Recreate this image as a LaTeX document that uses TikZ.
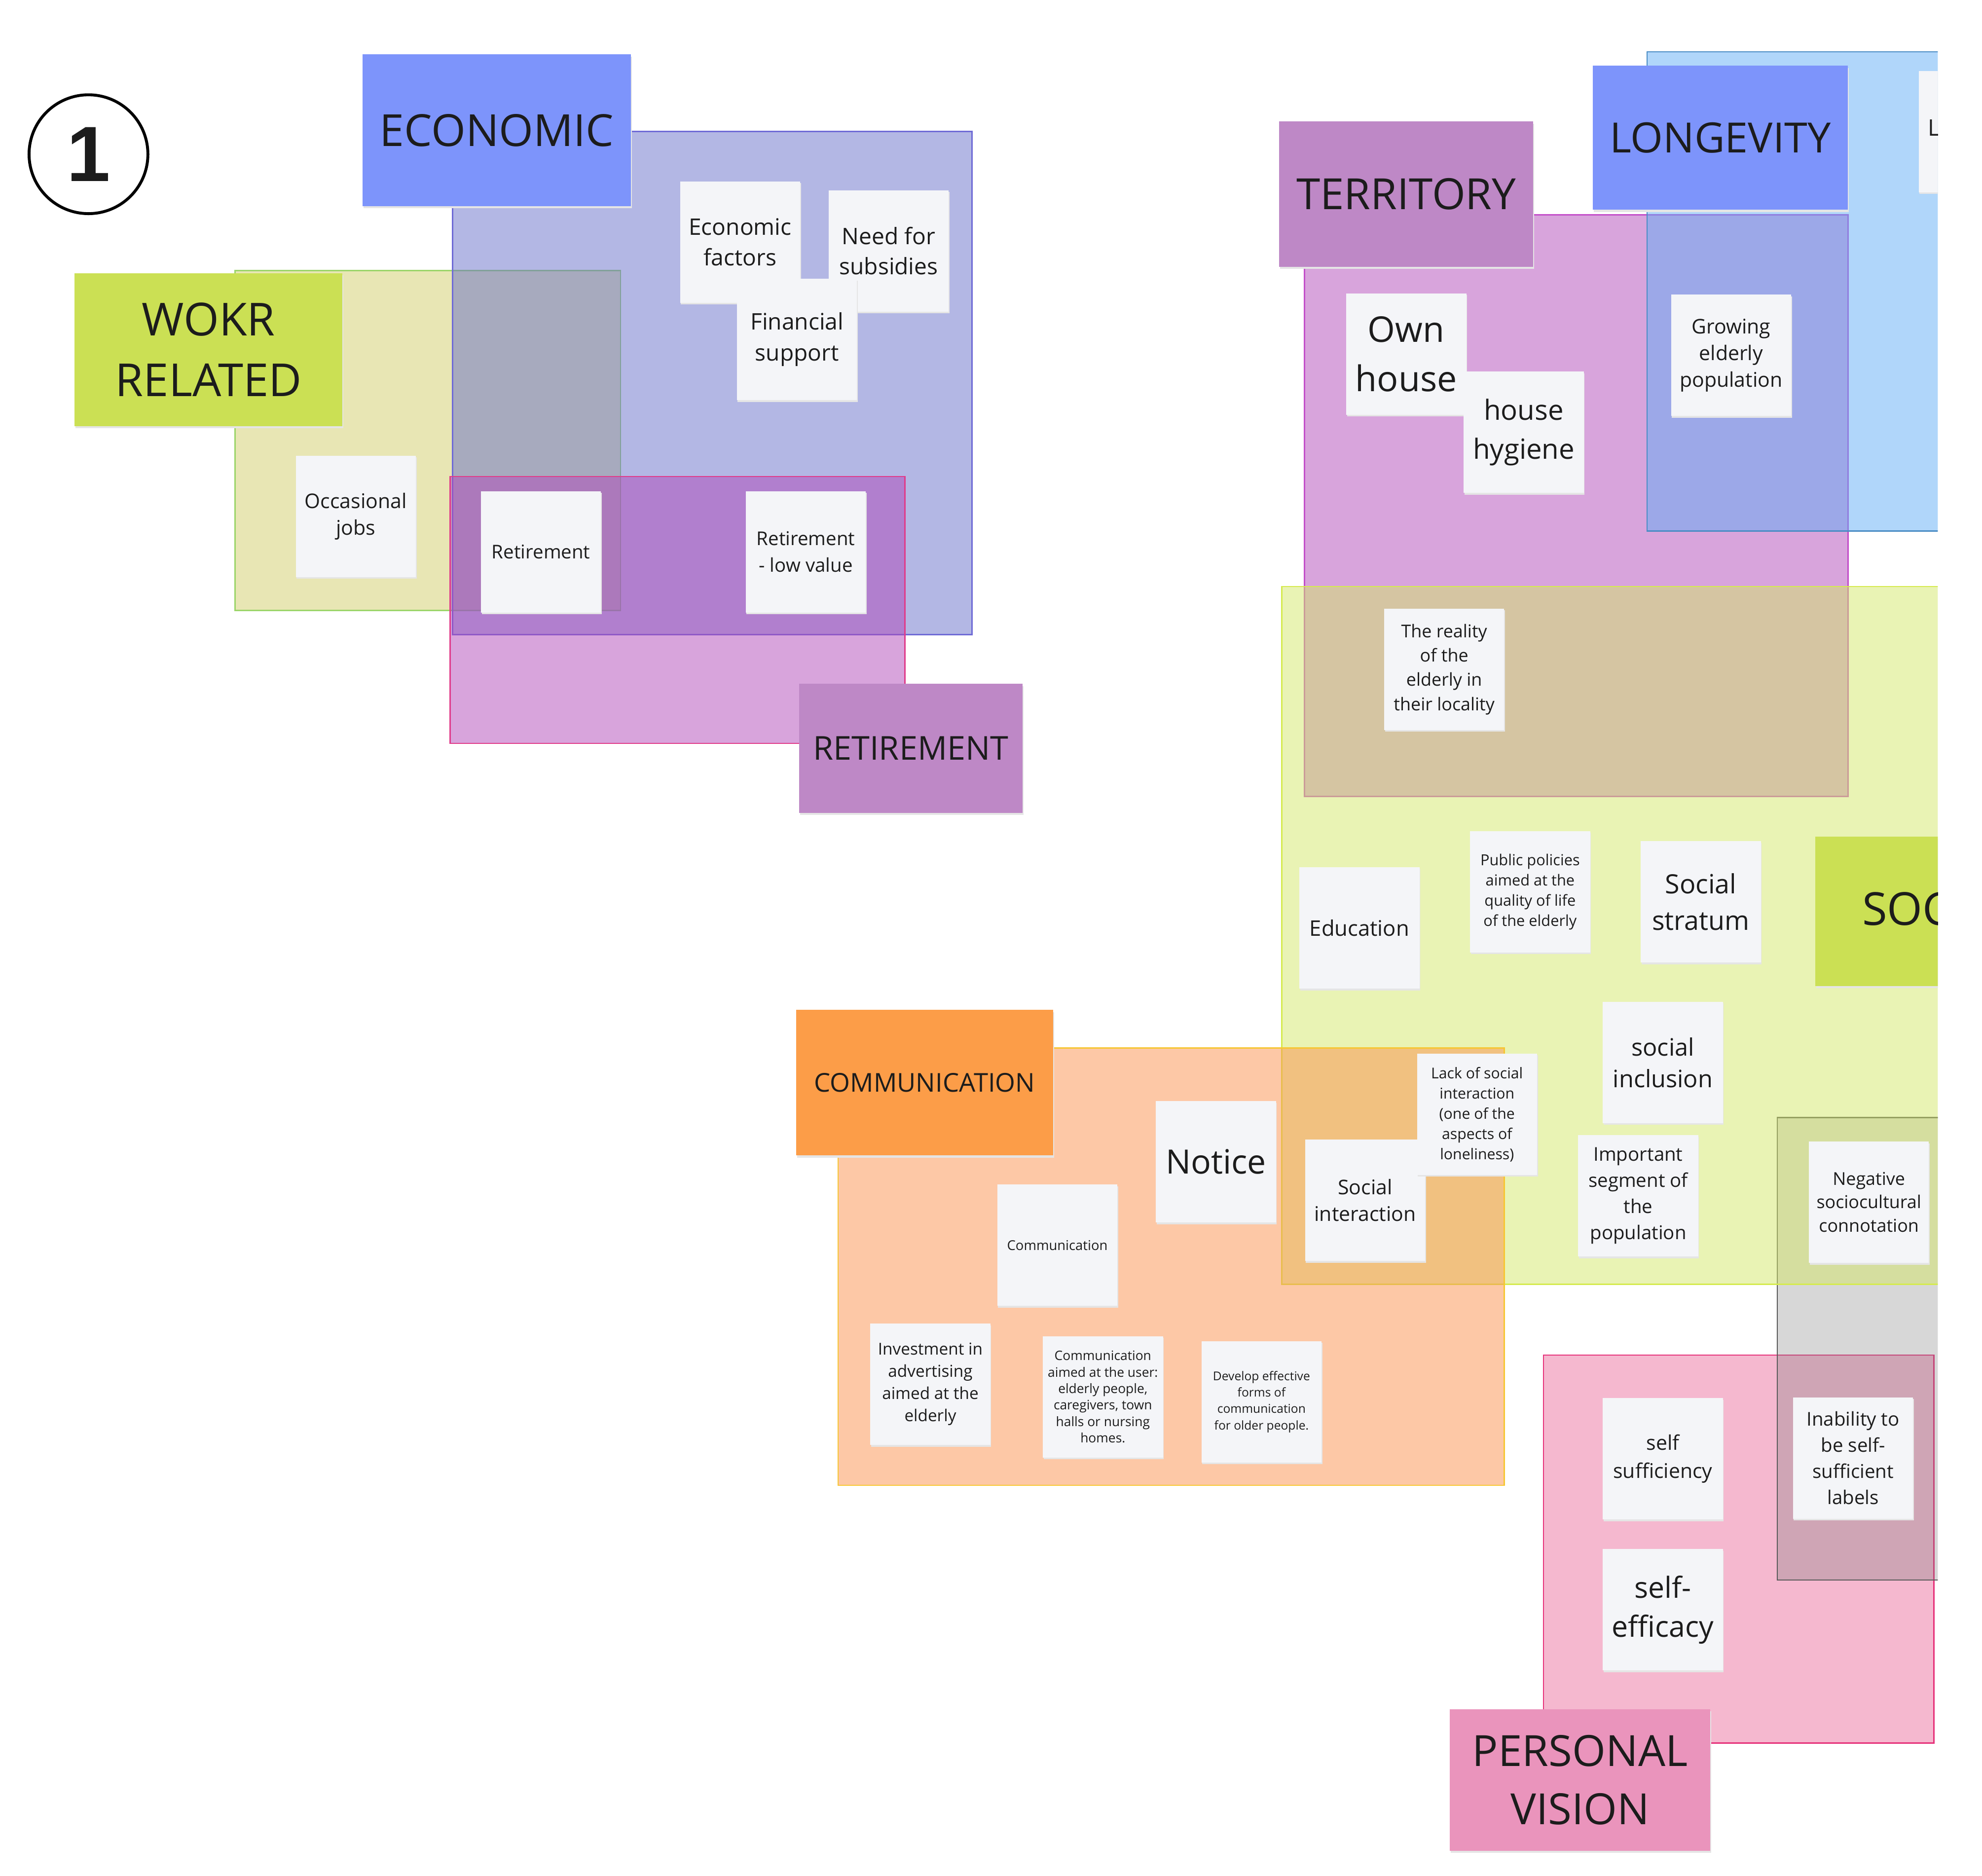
\documentclass[tikz,border=0pt]{standalone}
\usepackage{fontspec}
\setmainfont{Open Sans}
\newfontfamily\numfont{Liberation Sans}
\usepackage{tikz}
\usetikzlibrary{shadows}
\usepackage{xcolor}
\definecolor{ink}{HTML}{1C1C1C}
\definecolor{notebg}{HTML}{F4F5F8}
% header colours
\definecolor{hdblue}{HTML}{7D94FB}
\definecolor{hdlime}{HTML}{CBE054}
\definecolor{hdplum}{HTML}{BE88C6}
\definecolor{hdorange}{HTML}{FC9D48}
\definecolor{hdpink}{HTML}{EA94BC}
% area colours (laid down at half opacity) and their edges
\definecolor{arEcon}{HTML}{676FC9}
\definecolor{arWork}{HTML}{D1CD69}
\definecolor{arPlum}{HTML}{B149B9}
\definecolor{arLong}{HTML}{61ADF5}
\definecolor{arSoc}{HTML}{D3E769}
\definecolor{arComm}{HTML}{FB914D}
\definecolor{arGrey}{HTML}{797979}
\definecolor{arPers}{HTML}{EB719F}
\definecolor{edEcon}{HTML}{6F6BD6}
\definecolor{edWork}{HTML}{9CD56A}
\definecolor{edRet}{HTML}{E03C8A}
\definecolor{edTerr}{HTML}{C34FC9}
\definecolor{edLong}{HTML}{4A8CC4}
\definecolor{edSoc}{HTML}{D5EA4E}
\definecolor{edComm}{HTML}{F7C634}
\definecolor{edGrey}{HTML}{5A5A5A}
\definecolor{edPers}{HTML}{E6327A}
\newcommand{\fsz}[2]{\fontsize{#1}{#2}\selectfont}

\begin{document}
\begin{tikzpicture}[x=1pt, y=-1pt, text=ink,
    area/.style 2 args={fill=#1, draw=#2, fill opacity=0.5, line width=1pt},
    sticky/.style={fill=notebg, minimum width=95pt, minimum height=96pt, inner sep=2pt, align=center,
        general shadow={fill=black!10, shadow xshift=0.6pt, shadow yshift=-1.4pt}},
    header/.style={fill=#1, align=center, inner sep=0pt,
        general shadow={fill=black!10, shadow xshift=0.8pt, shadow yshift=-1.8pt}}]
    \useasboundingbox (0,0) rectangle (1568,1484);
    \node[draw, circle, line width=2.3pt, minimum size=94pt, font=\numfont\bfseries\fsz{62}{62}] (badge) at (70,122) {1};
    \begin{scope}
        \clip (0,0) rectangle (1533,1484);
        % areas
        \filldraw[area={arWork}{edWork}] (186,214) rectangle (491,483);
        \filldraw[area={arEcon}{edEcon}] (358,104) rectangle (769,502);
        \filldraw[area={arPlum}{edRet}] (356,377) rectangle (716,588);
        \filldraw[area={arPlum}{edTerr}] (1032,170) rectangle (1462,630);
        \filldraw[area={arPers}{edPers}] (1221,1072) rectangle (1530,1379);
        \filldraw[area={arGrey}{edGrey}, fill opacity=0.3] (1406,884) rectangle (1545,1250);
        \filldraw[area={arSoc}{edSoc}] (1014,464) rectangle (1545,1016);
        \filldraw[area={arLong}{edLong}] (1303,41) rectangle (1545,420);
        \filldraw[area={arComm}{edComm}] (663,829) rectangle (1190,1175);
        % ECONOMIC / WORK / RETIREMENT
        \node[header=hdblue, minimum width=212pt, minimum height=120pt, font=\fsz{35}{46}] (economic) at (393,103) {ECONOMIC};
        \node[header=hdlime, minimum width=212pt, minimum height=121pt, font=\fsz{36}{48}] (work) at (165,276.5) {WOKR\\RELATED};
        \node[header=hdplum, minimum width=177pt, minimum height=102pt, font=\fsz{26}{34}] (retirement) at (720.5,592) {RETIREMENT};
        \node[sticky, font=\fsz{18}{24}] (ecoFactors) at (585.5,191.5) {Economic\\factors};
        \node[sticky, font=\fsz{18}{24}] (subsidies) at (703,198.5) {Need for\\subsidies};
        \node[sticky, font=\fsz{18}{24.5}] (finSupport) at (630.5,268.5) {Financial\\support};
        \node[sticky, font=\fsz{16}{21}] (occJobs) at (281.5,408.5) {Occasional\\jobs};
        \node[sticky, font=\fsz{15}{21}] (retire) at (428,436.5) {Retirement};
        \node[sticky, font=\fsz{15}{21}] (retLow) at (637.5,436.5) {Retirement\\- low value};
        % TERRITORY / LONGEVITY
        \node[header=hdplum, minimum width=201pt, minimum height=115pt, font=\fsz{34}{44}] (territory) at (1112.5,153.5) {TERRITORY};
        \node[header=hdblue, minimum width=202pt, minimum height=114pt, font=\fsz{33}{44}] (longevity) at (1361,109) {LONGEVITY};
        \node[sticky, font=\fsz{28}{39}] (ownHouse) at (1112.5,280) {Own\\house};
        \node[sticky, font=\fsz{22}{31}] (hygiene) at (1205.5,342) {house\\hygiene};
        \node[sticky, font=\fsz{16}{21}] (growing) at (1369.5,281) {Growing\\elderly\\population};
        \node[sticky] (lNote) at (1565.5,104) {};
        \node[font=\fsz{18}{24}, anchor=west, inner sep=0pt] (lNoteText) at (1525,101) {L};
        % SOCIAL
        \node[header=hdlime, minimum width=210pt, minimum height=118pt] (soc) at (1541,721) {};
        \node[font=\fsz{36}{46}, anchor=west, inner sep=0pt] (socText) at (1473,719) {SOC};
        \node[sticky, font=\fsz{14}{19.3}] (reality) at (1142.5,529.5) {The reality\\of the\\elderly in\\their locality};
        \node[sticky, font=\fsz{17}{22}] (education) at (1075.5,734) {Education};
        \node[sticky, font=\fsz{12}{16}] (policies) at (1210.5,705.5) {Public policies\\aimed at the\\quality of life\\of the elderly};
        \node[sticky, font=\fsz{21}{29}] (stratum) at (1345.5,713.5) {Social\\stratum};
        \node[sticky, font=\fsz{19}{25}] (inclusion) at (1315.5,840.5) {social\\inclusion};
        \node[sticky, font=\fsz{15}{20.7}] (segment) at (1296,946) {Important\\segment of\\the\\population};
        \node[sticky, font=\fsz{16}{21}] (socInter) at (1080,949.5) {Social\\interaction};
        \node[sticky, font=\fsz{11.8}{16}] (lackInter) at (1168.5,881.5) {Lack of social\\interaction\\(one of the\\aspects of\\loneliness)};
        \node[sticky, font=\fsz{14}{18.5}] (negative) at (1478.5,951) {Negative\\sociocultural\\connotation};
        % COMMUNICATION
        \node[header=hdorange, minimum width=203pt, minimum height=115pt, font=\fsz{20.5}{28}] (communication) at (731.5,856.5) {COMMUNICATION};
        \node[sticky, font=\fsz{26.5}{34}] (notice) at (962,919) {Notice};
        \node[sticky, font=\fsz{10.7}{14}] (commNote) at (836.5,985) {Communication};
        \node[sticky, font=\fsz{13}{17.5}] (invest) at (736,1095) {Investment in\\advertising\\aimed at the\\elderly};
        \node[sticky, font=\fsz{10.3}{13}] (commUser) at (872.5,1105) {Communication\\aimed at the user:\\elderly people,\\caregivers, town\\halls or nursing\\homes.};
        \node[sticky, font=\fsz{9.6}{13}] (develop) at (998,1109) {Develop effective\\forms of\\communication\\for older people.};
        % PERSONAL VISION
        \node[header=hdpink, minimum width=206pt, minimum height=112pt, font=\fsz{34}{46}] (personal) at (1250,1408) {PERSONAL\\VISION};
        \node[sticky, font=\fsz{16}{22}] (selfSuff) at (1315.5,1154) {self\\sufficiency};
        \node[sticky, font=\fsz{15}{20.7}] (inability) at (1466,1153.5) {Inability to\\be self-\\sufficient\\labels};
        \node[sticky, font=\fsz{23}{31}] (efficacy) at (1315.5,1273.5) {self-\\efficacy};
    \end{scope}
\end{tikzpicture}
\end{document}
